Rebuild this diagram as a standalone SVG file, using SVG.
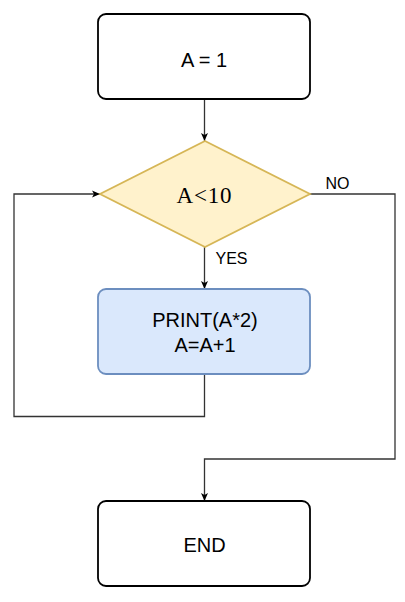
<svg xmlns="http://www.w3.org/2000/svg" width="405" height="602" viewBox="0 0 405 602">
<style>
.box{fill:#ffffff;stroke:#000000;stroke-width:1.8}
.proc{fill:#dae8fc;stroke:#6c8ebf;stroke-width:1.8}
.dec{fill:#fff2cc;stroke:#d6b656;stroke-width:1.8}
.t{font-family:"Liberation Sans",Arial,sans-serif;font-size:20px;fill:#000;text-anchor:middle}
.lbl{font-family:"Liberation Sans",Arial,sans-serif;font-size:16px;fill:#000}
.st{font-family:"Liberation Serif","Times New Roman",serif;font-size:23px;fill:#000;text-anchor:middle}
.c{fill:none;stroke:#333333;stroke-width:1.3}
</style>
<defs>
<marker id="arr" markerWidth="10" markerHeight="10" refX="9" refY="5" orient="auto" markerUnits="userSpaceOnUse">
<path d="M1,1.5 L9,5 L1,8.5 L3,5 Z" fill="#000"/>
</marker>
</defs>
<g id="connectors">
<path class="c" d="M204.5,99 L204.5,141" marker-end="url(#arr)"/>
<path class="c" d="M204.5,247 L204.5,289" marker-end="url(#arr)"/>
<path class="c" d="M204.5,374 L204.5,416.5 L14,416.5 L14,194 L100,194" marker-end="url(#arr)"/>
<path class="c" d="M310,194 L395,194 L395,459 L204.5,459 L204.5,501" marker-end="url(#arr)"/>
<text class="lbl" x="325.5" y="189">NO</text>
<text class="lbl" x="215.5" y="263.5">YES</text>
</g>
<g id="start">
<rect class="box" x="98" y="14" width="212" height="85" rx="8"/>
<text class="t" x="204" y="66.5">A = 1</text>
</g>
<g id="decision">
<path class="dec" d="M205,141 L310,194 L205,247 L100,194 Z"/>
<text class="st" x="204.5" y="203.3" letter-spacing="0.8">A&lt;10</text>
</g>
<g id="process">
<rect class="proc" x="98" y="289" width="212" height="85" rx="8"/>
<text class="t" x="205" y="326.7">PRINT(A*2)</text>
<text class="t" x="205" y="351.7">A=A+1</text>
</g>
<g id="end">
<rect class="box" x="98" y="501" width="212" height="85" rx="8"/>
<text class="t" x="204.5" y="552">END</text>
</g>
</svg>
